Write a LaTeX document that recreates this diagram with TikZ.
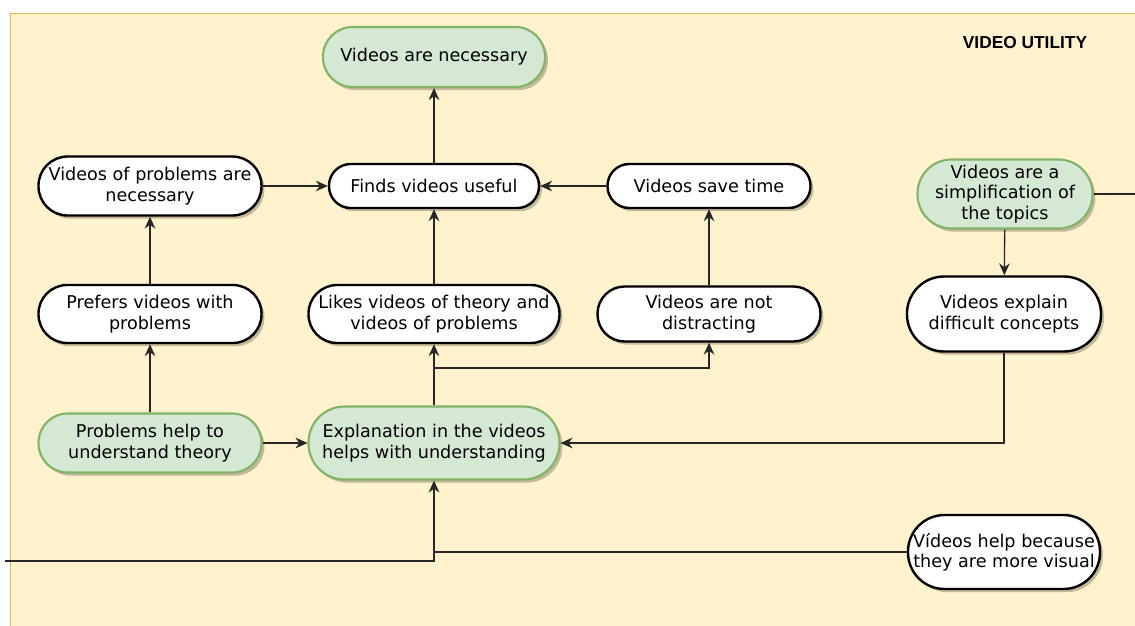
\documentclass[tikz,border=0pt]{standalone}
\usepackage{fontspec}
\setmainfont{DejaVu Sans}
\newfontfamily\titlefont{Liberation Sans}
\usetikzlibrary{arrows.meta,shadows}
\definecolor{bgfill}{HTML}{FFF2CC}
\definecolor{bgline}{HTML}{D6B656}
\definecolor{gfill}{HTML}{D5E8D4}
\definecolor{gline}{HTML}{82B366}
\definecolor{shadowc}{HTML}{6B6150}
\tikzset{
  pill/.style 2 args={rectangle, align=center, inner sep=0pt,
    minimum width=#1*0.75pt, minimum height=#2*0.75pt,
    rounded corners=#2*0.37pt,
    font=\fontsize{13.2pt}{15.3pt}\selectfont,
    drop shadow={shadow xshift=2.2pt, shadow yshift=-2.4pt, opacity=0.4, fill=shadowc}},
  whitebox/.style={fill=white, draw=black, line width=1.8pt},
  greenbox/.style={fill=gfill, draw=gline, line width=1.6pt},
  conn/.style={line width=1pt, draw=black!85},
  arr/.style={conn, -{Stealth[length=9pt, width=8pt, inset=3pt]}},
}
\begin{document}
\begin{tikzpicture}[x=0.75pt, y=-0.75pt]
\useasboundingbox (0,0) rectangle (1135,625);
\fill[white] (0,0) rectangle (1135,625);
\filldraw[fill=bgfill, draw=bgline, line width=0.6pt] (10,13) rectangle (1140,630);
\node[font=\titlefont\bfseries\fontsize{13pt}{15pt}\selectfont] (title) at (1025,43) {VIDEO UTILITY};

\node[pill={222}{60}, greenbox] (nec) at (434,57) {Videos are necessary};
\node[pill={223}{59}, whitebox] (vprob) at (150,186) {Videos of problems are\\necessary};
\node[pill={210}{44}, whitebox] (find) at (434,186) {Finds videos useful};
\node[pill={203}{44}, whitebox] (save) at (709,186) {Videos save time};
\node[pill={175}{69}, greenbox] (simp) at (1005,194) {Videos are a\\simplification of\\the topics};
\node[pill={223}{58}, whitebox] (pref) at (150,314) {Prefers videos with\\problems};
\node[pill={251}{58}, whitebox] (likes) at (434,314) {Likes videos of theory and\\videos of problems};
\node[pill={223}{55}, whitebox] (notd) at (709,314) {Videos are not\\distracting};
\node[pill={194}{75}, whitebox] (explain) at (1004,314) {Videos explain\\difficult concepts};
\node[pill={223}{59}, greenbox] (probh) at (150,443) {Problems help to\\understand theory};
\node[pill={251}{73}, greenbox] (expl) at (434,443) {Explanation in the videos\\helps with understanding};
\node[pill={192}{74}, whitebox] (vhelp) at (1004,552) {Vídeos help because\\they are more visual};

\coordinate (j1) at (434,368);
\coordinate (lstart) at (5,561);
\coordinate (rend) at (1135,194);

\draw[arr] (find) -- (nec);
\draw[arr] (vprob) -- (find);
\draw[arr] (save) -- (find);
\draw[arr] (pref) -- (vprob);
\draw[arr] (probh) -- (pref);
\draw[arr] (likes) -- (find);
\draw[arr] (expl) -- (likes);
\draw[arr] (j1) -| (notd.south);
\draw[arr] (notd) -- (save);
\draw[arr] (simp) -- (explain);
\draw[conn] (simp.east) -- (rend);
\draw[arr] (explain.south) |- (expl.east);
\draw[arr] (probh) -- (expl);
\draw[arr] (lstart) -| (expl.south);
\draw[conn] (vhelp.west) -- (vhelp.west -| expl.south);
\end{tikzpicture}
\end{document}
